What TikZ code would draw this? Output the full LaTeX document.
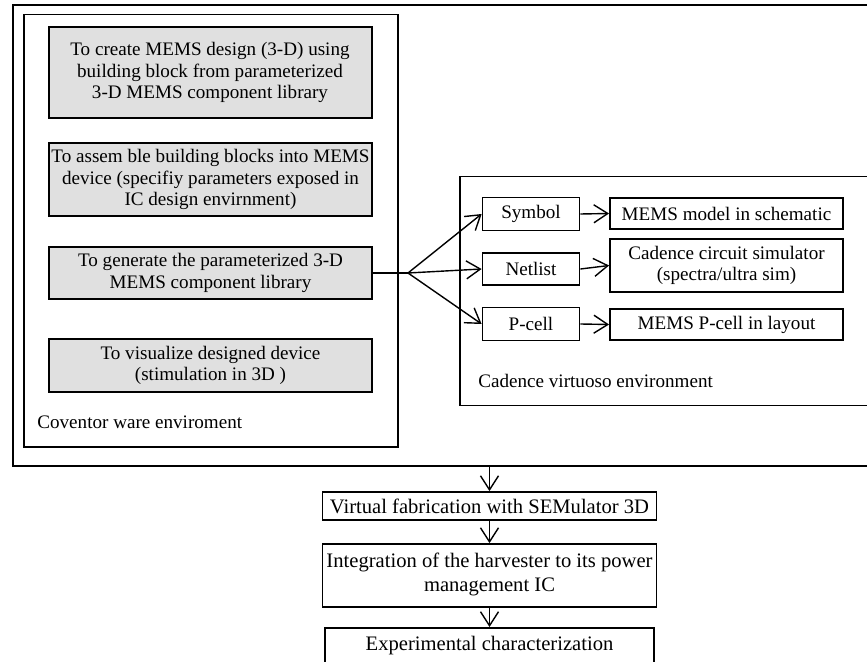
\documentclass[tikz,border=0pt]{standalone}
\usepackage{fontspec}
\setmainfont{Liberation Serif}
\usetikzlibrary{arrows.meta}

\begin{document}
\begin{tikzpicture}[
  x=0.5pt, y=-0.5pt,
  font=\fontsize{9.55}{10.9}\selectfont,
  frame/.style={rectangle, draw, line width=1pt, inner sep=0pt},
  env/.style={rectangle, draw, line width=0.75pt, inner sep=0pt},
  task/.style={rectangle, draw, line width=1pt, fill=black!12,
    minimum width=161.5pt, align=center, inner sep=1pt},
  item/.style={rectangle, draw, line width=0.9pt, minimum width=48.5pt,
    minimum height=16.5pt, align=center, inner sep=1pt},
  viewout/.style={rectangle, draw, line width=0.9pt, minimum width=116.5pt,
    minimum height=15.5pt, align=center, inner sep=1pt},
  stage/.style={rectangle, draw, line width=0.9pt, minimum width=167pt,
    align=center, inner sep=1pt, font=\fontsize{10.3}{11.7}\selectfont},
  flow/.style={-{Straight Barb[length=7pt,width=9pt]}, line width=0.7pt},
  envlabel/.style={anchor=base west, inner sep=0pt},
]
\useasboundingbox (0,0) rectangle (867,662);
\clip (0,0) rectangle (867,662);

% Environment frames
\node[frame, minimum width=440pt, minimum height=230.5pt, anchor=north west] (outer) at (12,4) {};
\node[env, minimum width=187pt, minimum height=216pt, anchor=north west] (cov) at (23,14) {};
\node[env, minimum width=215pt, minimum height=114.5pt, anchor=north west] (cad) at (459,176) {};
\node[envlabel] (covlbl) at (37,429) {Coventor ware enviroment};
\node[envlabel] (cadlbl) at (478,388) {Cadence virtuoso environment};

% Coventor ware steps
\node[task, minimum height=45.5pt] (create) at (210,72.5)
  {To create MEMS design (3-D) using\\building block from parameterized\\3-D MEMS component library};
\node[task, minimum height=36.5pt] (assem) at (210.5,179.5)
  {To assem ble building blocks into MEMS\\device (specifiy parameters exposed in\\IC design envirnment)};
\node[task, minimum height=26pt] (gen) at (210.5,273)
  {To generate the parameterized 3-D\\MEMS component library};
\node[task, minimum height=26.5pt] (vis) at (210.5,365.5)
  {To visualize designed device\\(stimulation in 3D )};

% Cadence views
\node[item] (sym) at (531,214) {Symbol};
\node[item, minimum height=16pt] (net) at (531,269) {Netlist};
\node[item] (pcell) at (531,324) {P-cell};
\node[viewout] (schem) at (726.5,213.5) {MEMS model in schematic};
\node[viewout, minimum height=26.5pt] (sim) at (726.5,265.5) {Cadence circuit simulator\\(spectra/ultra sim)};
\node[viewout] (lay) at (726.5,324.5) {MEMS P-cell in layout};

% Branch from library to views
\coordinate (split) at (408,273);
\draw[line width=0.7pt] (gen.east) -- (split);
\draw[flow] (split) -- (sym.west);
\draw[flow] (split) -- (net.west);
\draw[flow] (split) -- (pcell.west);
\draw[flow] (sym.east) -- (schem.west);
\draw[flow] (net.east) -- (sim.west);
\draw[flow] (pcell.east) -- (lay.west);

% Downstream flow
\node[stage, minimum height=14pt] (fab) at (489.5,506) {Virtual fabrication with SEMulator 3D};
\node[stage, minimum height=31.5pt] (integ) at (489.5,575.5)
  {\raisebox{3pt}{\shortstack{Integration of the harvester to its power\\management IC}}};
\node[stage, minimum height=25pt, minimum width=164.5pt, anchor=north] (exper) at (489.5,627)
  {\raisebox{10pt}{Experimental characterization}};

\draw[flow] (fab.north |- outer.south) -- (fab.north);
\draw[flow] (fab.south) -- (integ.north);
\draw[flow] (integ.south) -- (exper.north);

\end{tikzpicture}
\end{document}
